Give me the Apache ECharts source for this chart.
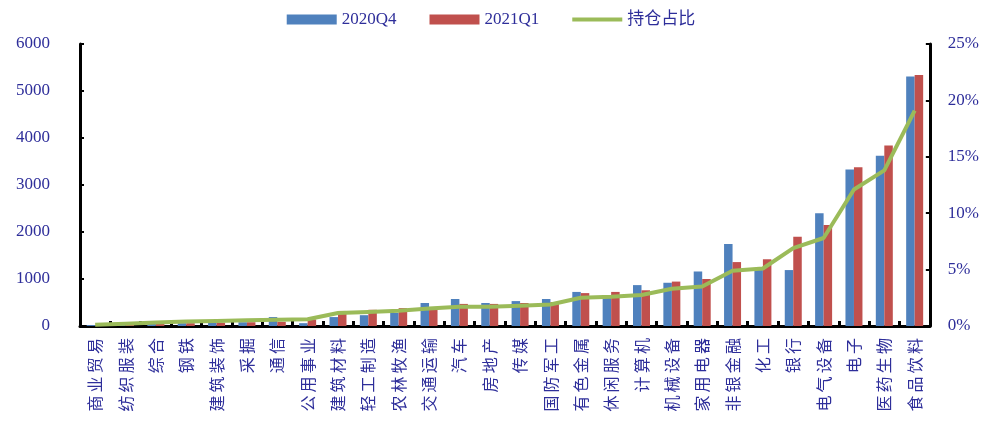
<!DOCTYPE html>
<html>
<head>
<meta charset="utf-8">
<script src="https://cdn.jsdelivr.net/npm/echarts@6/dist/echarts.min.js"></script>
<style>
  html, body { margin: 0; padding: 0; background: #fff; }
  #chart { width: 982px; height: 425px; }
</style>
</head>
<body>
<div id="chart"></div>
<script>
// Industries, sorted by holding share
const industries = ['商业贸易', '纺织服装', '综合', '钢铁', '建筑装饰', '采掘', '通信', '公用事业',
  '建筑材料', '轻工制造', '农林牧渔', '交通运输', '汽车', '房地产', '传媒', '国防军工', '有色金属',
  '休闲服务', '计算机', '机械设备', '家用电器', '非银金融', '化工', '银行', '电气设备', '电子',
  '医药生物', '食品饮料'];

// Holding value, 2020Q4
const q4_2020 = [20, 40, 60, 60, 70, 80, 190, 60, 190, 230, 280, 490, 575, 490, 530, 575, 725,
  600, 870, 920, 1160, 1745, 1190, 1190, 2400, 3330, 3620, 5310];

// Holding value, 2021Q1
const q1_2021 = [15, 35, 50, 60, 70, 80, 90, 140, 320, 345, 380, 340, 470, 470, 490, 510, 700,
  725, 760, 945, 1000, 1360, 1420, 1900, 2150, 3380, 3840, 5340];

// Holding share (%)
const holdShare = [0.1, 0.2, 0.3, 0.4, 0.45, 0.5, 0.55, 0.6, 1.15, 1.25, 1.35, 1.55, 1.7, 1.7,
  1.8, 1.9, 2.5, 2.6, 2.75, 3.3, 3.5, 4.9, 5.1, 6.9, 7.8, 12.1, 13.8, 19.1];

const leftTicks = [0, 1000, 2000, 3000, 4000, 5000, 6000];
const rightTicks = [0, 5, 10, 15, 20, 25];

const labelColor = '#2E2E9A';
const fontFam = '"Liberation Serif", "Noto Sans CJK SC", serif';

const chart = echarts.init(document.getElementById('chart'), null, { renderer: 'canvas' });

chart.setOption({
  animation: false,
  backgroundColor: '#ffffff',
  textStyle: { fontFamily: fontFam },
  legend: {
    top: 6,
    left: 'center',
    itemWidth: 50,
    itemHeight: 10,
    itemGap: 33,
    textStyle: { color: labelColor, fontSize: 17, fontFamily: fontFam },
    data: [
      { name: '2020Q4', icon: 'rect' },
      { name: '2021Q1', icon: 'rect' },
      { name: '持仓占比', icon: 'path://M0,0 L50,0 L50,4 L0,4 Z' }
    ]
  },
  grid: { left: 80, right: 52, top: 44, bottom: 99, containLabel: false },
  xAxis: {
    type: 'category',
    data: industries,
    axisLine: { lineStyle: { color: '#000', width: 3 } },
    axisTick: { show: true, inside: true, length: 5, lineStyle: { color: '#000', width: 3 } },
    axisLabel: {
      rotate: 90,
      interval: 0,
      margin: 12,
      color: labelColor,
      fontSize: 16,
      fontFamily: '"Noto Sans CJK SC", serif',
      formatter: v => v.split('').join('\u2009')
    },
    splitLine: { show: false }
  },
  yAxis: [
    {
      type: 'value',
      min: leftTicks[0],
      max: leftTicks[leftTicks.length - 1],
      interval: leftTicks[1] - leftTicks[0],
      axisLine: { show: true, lineStyle: { color: '#000', width: 3 } },
      axisTick: { show: true, inside: true, length: 4, lineStyle: { color: '#000', width: 2 } },
      axisLabel: {
        color: labelColor, fontSize: 17, margin: 30, fontFamily: fontFam,
        formatter: v => String(v)
      },
      splitLine: { show: false }
    },
    {
      type: 'value',
      min: rightTicks[0],
      max: rightTicks[rightTicks.length - 1],
      interval: rightTicks[1] - rightTicks[0],
      axisLine: { show: true, lineStyle: { color: '#000', width: 3 } },
      axisTick: { show: true, inside: true, length: 4, lineStyle: { color: '#000', width: 2 } },
      axisLabel: { color: labelColor, fontSize: 17, margin: 18, formatter: '{value}%', fontFamily: fontFam },
      splitLine: { show: false }
    }
  ],
  series: [
    {
      name: '2020Q4',
      type: 'bar',
      data: q4_2020,
      barGap: '0%',
      barCategoryGap: '44%',
      itemStyle: { color: '#4F81BD' },
      z: 2
    },
    {
      name: '2021Q1',
      type: 'bar',
      data: q1_2021,
      itemStyle: { color: '#C0504D' },
      z: 2
    },
    {
      name: '持仓占比',
      type: 'line',
      yAxisIndex: 1,
      data: holdShare,
      symbol: 'none',
      lineStyle: { color: '#9BBB59', width: 4 },
      itemStyle: { color: '#9BBB59' },
      z: 5
    }
  ]
});
</script>
</body>
</html>
